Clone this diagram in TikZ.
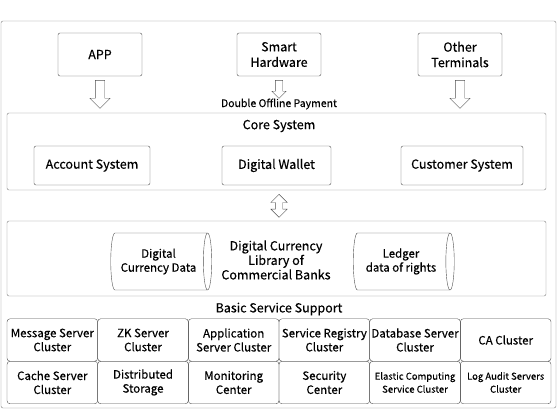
\documentclass[tikz,border=0pt]{standalone}
\usepackage{fontspec}
\setmainfont{Noto Sans CJK SC}[UprightFeatures={FakeBold=0.3}]
\usetikzlibrary{shapes.geometric,shapes.arrows,calc}
\definecolor{inkLine}{RGB}{80, 80, 80}
\definecolor{inkFrame}{RGB}{125, 125, 125}

\tikzset{
  box/.style={draw=inkLine, rounded corners=2pt, align=center, inner sep=2pt,
    font=\fontsize{12.5pt}{15.5pt}\selectfont},
  panel/.style={draw=inkFrame, rounded corners=2pt},
  cell/.style={draw=inkLine, rounded corners=3pt, minimum width=90.6pt,
    minimum height=42.5pt, inner sep=1pt, align=center,
    font=\fontsize{11.5pt}{14pt}\selectfont},
  smallcell/.style={cell, font=\fontsize{9.5pt}{13pt}\selectfont},
  store/.style={cylinder, draw=inkLine, aspect=0.3, minimum width=57pt,
    minimum height=101pt, align=center, inner sep=1pt,
    font=\fontsize{11.5pt}{14pt}\selectfont},
  downarrow/.style={single arrow, draw=inkLine, shape border rotate=270,
    inner sep=4.5pt, single arrow head extend=5.5pt, minimum height=28pt},
  updown/.style={double arrow, draw=inkLine, shape border rotate=90,
    inner sep=3.5pt, double arrow head extend=4.5pt, minimum height=23pt},
}

\begin{document}
\begin{tikzpicture}[x=1pt, y=-1pt]
  \useasboundingbox (0,0) rectangle (559,412);
  \draw[panel] (1,21) rectangle (556,408);

  % terminals
  \node[box, minimum width=84pt, minimum height=43pt] (app) at (100,54.5) {APP};
  \node[box, minimum width=84pt, minimum height=43pt] (smart) at (279,54.5) {Smart\\Hardware};
  \node[box, minimum width=84pt, minimum height=43pt] (other) at (460,54.5) {Other\\Terminals};

  \node[downarrow, anchor=north] (appArr) at ([yshift=-4pt]app.south) {};
  \node[downarrow, anchor=north, inner sep=3.5pt, single arrow head extend=3.5pt,
    minimum height=18pt] (smartArr) at ([yshift=-4pt]smart.south) {};
  \node[downarrow, anchor=north] (otherArr) at ([yshift=-4pt]other.south) {};
  \node[font=\fontsize{10.5pt}{12pt}\selectfont] (offline) at (279,104) {Double Offline Payment};

  % core system
  \draw[panel] (7,113) rectangle (546,190);
  \coordinate (coreBot) at (279,190);
  \node[font=\fontsize{12.5pt}{15pt}\selectfont] (core) at (279,126) {Core System};
  \node[box, minimum width=116pt, minimum height=39pt] (account) at (92,165.5) {Account System};
  \node[box, minimum width=109pt, minimum height=39pt] (wallet) at (276.5,165.5) {Digital Wallet};
  \node[box, minimum width=122pt, minimum height=39pt] (customer) at (462,165.5) {Customer System};

  \node[updown, anchor=north] (coreArr) at ([yshift=-4pt]coreBot) {};

  % commercial bank library
  \draw[panel] (7,221) rectangle (546,296);
  \node[align=center, font=\fontsize{12.5pt}{14.5pt}\selectfont] (bank) at (276,260)
    {Digital Currency\\Library of\\Commercial Banks};
  \node[store] (coinData) at (158.5,261.5) {Digital\\Currency Data};
  \node[store] (ledger) at (401,261.5) {Ledger\\data of rights};

  % basic services
  \node[font=\fontsize{12.5pt}{15pt}\selectfont] (basic) at (279,309) {Basic Service Support};
  \foreach \txt [count=\i] in {Message Server\\Cluster, ZK Server\\Cluster,
      Application\\Server Cluster, Service Registry\\Cluster,
      Database Server\\Cluster, CA Cluster}
    \node[cell] (top\i) at ({7+90.67*(\i-0.5)},340) {\txt};
  \foreach \txt [count=\i] in {Cache Server\\Cluster, Distributed\\Storage,
      Monitoring\\Center, Security\\Center}
    \node[cell] (bot\i) at ({7+90.67*(\i-0.5)},382.5) {\txt};
  \node[smallcell] (bot5) at ({7+90.67*4.5},382.5) {Elastic Computing\\Service Cluster};
  \node[smallcell] (bot6) at ({7+90.67*5.5},382.5) {Log Audit Servers\\Cluster};
\end{tikzpicture}
\end{document}
